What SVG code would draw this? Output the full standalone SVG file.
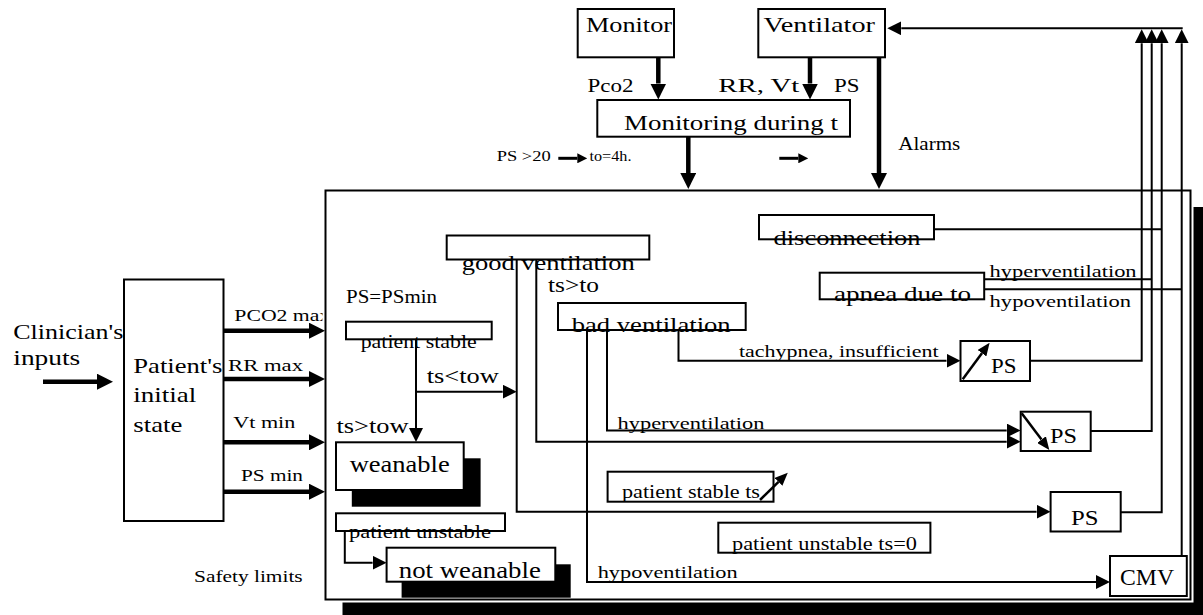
<svg xmlns="http://www.w3.org/2000/svg" width="1203" height="615" viewBox="0 0 1203 615" font-family="'Liberation Serif', 'Times New Roman', serif">
<style>
.box{fill:#fff;stroke:#000;stroke-width:2}
.halo{fill:#fff;stroke:#fff;stroke-width:6}
.shadow{fill:#000;stroke:none}
.thick{fill:none;stroke:#000;stroke-width:4.5}
.thin{fill:none;stroke:#000;stroke-width:2}
.diag{fill:none;stroke:#000;stroke-width:2.5}
.small{fill:none;stroke:#000;stroke-width:3}
text{font-family:'Liberation Serif','Times New Roman',serif;fill:#000}
.f24{font-size:23px}
.f22{font-size:22px}
.f20{font-size:20px}
.f18{font-size:18px}
.f17{font-size:17px}
.f14{font-size:14px}
</style>
<defs>
<marker id="ah" markerUnits="userSpaceOnUse" viewBox="0 0 16 16" markerWidth="16" markerHeight="16" refX="0" refY="8" orient="auto"><path d="M0,0 L16,8 L0,16 z" fill="#000"/></marker>
<marker id="at" markerUnits="userSpaceOnUse" viewBox="0 0 14 14" markerWidth="14" markerHeight="14" refX="0" refY="7" orient="auto"><path d="M0,0 L14,7 L0,14 z" fill="#000"/></marker>
<marker id="ad" markerUnits="userSpaceOnUse" viewBox="0 0 13 11" markerWidth="13" markerHeight="11" refX="0" refY="5.5" orient="auto"><path d="M0,0 L13,5.5 L0,11 z" fill="#000"/></marker>
<marker id="as" markerUnits="userSpaceOnUse" viewBox="0 0 10 10" markerWidth="10" markerHeight="10" refX="0" refY="5" orient="auto"><path d="M0,0 L10,5 L0,10 z" fill="#000"/></marker>
</defs>

<g id="limit-labels">
<text class="f17" x="234.3" y="321" textLength="96" lengthAdjust="spacingAndGlyphs">PCO2 max</text>
<text class="f17" x="228" y="371" textLength="75" lengthAdjust="spacingAndGlyphs">RR max</text>
<text class="f17" x="233.3" y="428.3" textLength="62" lengthAdjust="spacingAndGlyphs">Vt min</text>
<text class="f17" x="241" y="480.7" textLength="62" lengthAdjust="spacingAndGlyphs">PS min</text>
<text class="f17" x="194" y="581.7" textLength="108.7" lengthAdjust="spacingAndGlyphs">Safety limits</text>
</g>

<g id="safety-box">
<rect class="shadow" x="342.5" y="207" width="880" height="420"/>
<rect class="halo" x="325.5" y="190.5" width="865" height="409"/>
<rect class="box" x="325.5" y="190.5" width="865" height="409"/>
</g>

<g id="clinician">
<text class="f22" x="13.3" y="338.5" textLength="110" lengthAdjust="spacingAndGlyphs">Clinician's</text>
<text class="f22" x="13.3" y="365" textLength="67" lengthAdjust="spacingAndGlyphs">inputs</text>
</g>

<g id="patient-state">
<rect class="box" x="124" y="279.5" width="99.5" height="241.5"/>
<text class="f22" x="133.3" y="373.3" textLength="89" lengthAdjust="spacingAndGlyphs">Patient's</text>
<text class="f22" x="133.3" y="401.7" textLength="63" lengthAdjust="spacingAndGlyphs">initial</text>
<text class="f22" x="133.3" y="431.7" textLength="49" lengthAdjust="spacingAndGlyphs">state</text>
</g>

<g id="monitor">
<rect class="box" x="577.7" y="9" width="96.3" height="48.3"/>
<text class="f22" x="586" y="32" textLength="86" lengthAdjust="spacingAndGlyphs">Monitor</text>
</g>

<g id="ventilator">
<rect class="box" x="758.3" y="9" width="126.7" height="48.3"/>
<text class="f22" x="763.5" y="32" textLength="111.5" lengthAdjust="spacingAndGlyphs">Ventilator</text>
</g>

<g id="monitoring">
<rect class="box" x="597.3" y="100" width="252.7" height="36.7"/>
<text class="f20" x="624" y="130" textLength="214" lengthAdjust="spacingAndGlyphs">Monitoring during t</text>
</g>

<g id="good-ventilation">
<rect class="box" x="446.7" y="235.5" width="202.6" height="24"/>
<text class="f22" x="461.7" y="270" textLength="173" lengthAdjust="spacingAndGlyphs">good ventilation</text>
</g>

<g id="bad-ventilation">
<rect class="box" x="558" y="303" width="187.7" height="27"/>
<text class="f22" x="571.7" y="332" textLength="159" lengthAdjust="spacingAndGlyphs">bad ventilation</text>
</g>

<g id="disconnection">
<rect class="box" x="759" y="215" width="175" height="24.3"/>
<text class="f22" x="773.5" y="245" textLength="147" lengthAdjust="spacingAndGlyphs">disconnection</text>
</g>

<g id="apnea">
<rect class="box" x="819.7" y="272.7" width="164.5" height="26.6"/>
<text class="f22" x="834" y="301" textLength="137" lengthAdjust="spacingAndGlyphs">apnea due to</text>
</g>

<g id="patient-stable">
<rect class="box" x="346" y="321.7" width="145.7" height="17.6"/>
<text class="f18" x="360.7" y="348.3" textLength="116" lengthAdjust="spacingAndGlyphs">patient stable</text>
</g>

<g id="weanable">
<rect class="shadow" x="351.8" y="458.3" width="128.8" height="48.4"/>
<rect class="box" x="336" y="442.3" width="127.7" height="47.7"/>
<text class="f24" x="349.7" y="471.7" textLength="100" lengthAdjust="spacingAndGlyphs">weanable</text>
</g>

<g id="patient-unstable">
<rect class="box" x="336" y="513.3" width="169" height="17.7"/>
<text class="f18" x="349" y="538.3" textLength="142" lengthAdjust="spacingAndGlyphs">patient unstable</text>
</g>

<g id="not-weanable">
<rect class="shadow" x="401.6" y="564.3" width="169.1" height="33.4"/>
<rect class="box" x="386.6" y="547.7" width="168.7" height="34"/>
<text class="f24" x="398.8" y="578.3" textLength="142" lengthAdjust="spacingAndGlyphs">not weanable</text>
</g>

<g id="ps-increase">
<rect class="box" x="960.5" y="341" width="69.5" height="40"/>
<path class="diag" d="M962.7,379.3 L981.9,353.2" marker-end="url(#ad)"/>
<text class="f22" x="991" y="373.3" textLength="25.5" lengthAdjust="spacingAndGlyphs">PS</text>
</g>

<g id="ps-decrease">
<rect class="box" x="1020.7" y="411.7" width="70" height="39.3"/>
<path class="diag" d="M1021.7,413.3 L1041.5,439.6" marker-end="url(#ad)"/>
<text class="f22" x="1050" y="443" textLength="27" lengthAdjust="spacingAndGlyphs">PS</text>
</g>

<g id="ps-keep">
<rect class="box" x="1050.6" y="492" width="70.1" height="39.5"/>
<text class="f22" x="1071" y="524.5" textLength="27.5" lengthAdjust="spacingAndGlyphs">PS</text>
</g>

<g id="cmv">
<rect class="box" x="1110" y="556" width="76.8" height="40"/>
<text class="f24" x="1120" y="585" textLength="54" lengthAdjust="spacingAndGlyphs">CMV</text>
</g>

<g id="patient-stable-ts">
<rect class="box" x="607.6" y="471.7" width="165.9" height="30"/>
<text class="f18" x="622" y="498.3" textLength="138" lengthAdjust="spacingAndGlyphs">patient stable ts</text>
<path class="diag" d="M760,500 L778.5,481.8" marker-end="url(#ad)"/>
</g>

<g id="patient-unstable-ts">
<rect class="box" x="718.3" y="522.7" width="212.1" height="30"/>
<text class="f18" x="732" y="550" textLength="185" lengthAdjust="spacingAndGlyphs">patient unstable ts=0</text>
</g>

<g id="connectors">
<path class="thick" d="M43,381.7 H97" marker-end="url(#ah)"/>
<path class="thick" d="M223.5,330.7 H309" marker-end="url(#ah)"/>
<path class="thick" d="M223.5,379 H309" marker-end="url(#ah)"/>
<path class="thick" d="M223.5,442.3 H309" marker-end="url(#ah)"/>
<path class="thick" d="M223.5,491.7 H309" marker-end="url(#ah)"/>
<path class="thick" d="M658.3,57.3 V83.5" marker-end="url(#ah)"/>
<path class="thick" d="M810,57.3 V83.5" marker-end="url(#ah)"/>
<path class="thick" d="M688.3,136.7 V173" marker-end="url(#ah)"/>
<path class="thick" d="M879,57.3 V173" marker-end="url(#ah)"/>
<path class="small" d="M558.3,158.3 H577.3" marker-end="url(#as)"/>
<path class="small" d="M779.3,158.3 H798.3" marker-end="url(#as)"/>

<path class="thin" d="M516.7,259.5 V511.7 H1036.6" marker-end="url(#at)"/>
<path class="thin" d="M536.3,259.5 V441.7 H1006.7" marker-end="url(#at)"/>
<path class="thin" d="M587,330 V582 H1096" marker-end="url(#at)"/>
<path class="thin" d="M607,330 V430.5 H1006.7" marker-end="url(#at)"/>
<path class="thin" d="M678.5,330 V360.7 H946.5" marker-end="url(#at)"/>
<path class="thin" d="M416,339.3 V428" marker-end="url(#at)"/>
<path class="thin" d="M416,391.7 H502.7" marker-end="url(#at)"/>
<path class="thin" d="M344.8,531 V562.7 H372.6" marker-end="url(#at)"/>

<path class="thin" d="M1030,360.7 H1141.7 V43.3" marker-end="url(#at)"/>
<path class="thin" d="M1090.7,431 H1151.7 V43.3" marker-end="url(#at)"/>
<path class="thin" d="M984,279.3 H1151.7"/>
<path class="thin" d="M1120.7,512.3 H1161.7 V43.3" marker-end="url(#at)"/>
<path class="thin" d="M934,229.3 H1161.7"/>
<path class="thin" d="M1181.7,556 V43.3" marker-end="url(#at)"/>
<path class="thin" d="M984,289.3 H1181.7"/>
<path class="thin" d="M1182.7,28.3 H901.3" marker-end="url(#at)"/>

<text class="f18" x="587.5" y="92" textLength="46" lengthAdjust="spacingAndGlyphs">Pco2</text>
<text class="f18" x="718.3" y="92" textLength="81" lengthAdjust="spacingAndGlyphs">RR, Vt</text>
<text class="f18" x="834" y="92" textLength="25.5" lengthAdjust="spacingAndGlyphs">PS</text>
<text class="f14" x="496.7" y="161" textLength="54" lengthAdjust="spacingAndGlyphs">PS &gt;20</text>
<text class="f14" x="589.5" y="161" textLength="42" lengthAdjust="spacingAndGlyphs">to=4h.</text>
<text class="f18" x="898.3" y="149.5" textLength="62" lengthAdjust="spacingAndGlyphs">Alarms</text>
<text class="f20" x="548" y="292" textLength="51" lengthAdjust="spacingAndGlyphs">ts&gt;to</text>
<text class="f18" x="346" y="302.7" textLength="91" lengthAdjust="spacingAndGlyphs">PS=PSmin</text>
<text class="f20" x="426.7" y="383.3" textLength="72" lengthAdjust="spacingAndGlyphs">ts&lt;tow</text>
<text class="f20" x="336.5" y="433.3" textLength="72" lengthAdjust="spacingAndGlyphs">ts&gt;tow</text>
<text class="f17" x="989.6" y="277" textLength="147" lengthAdjust="spacingAndGlyphs">hyperventilation</text>
<text class="f17" x="989.6" y="307" textLength="141.5" lengthAdjust="spacingAndGlyphs">hypoventilation</text>
<text class="f17" x="739" y="356.7" textLength="199.5" lengthAdjust="spacingAndGlyphs">tachypnea, insufficient</text>
<text class="f17" x="617.5" y="428.5" textLength="147" lengthAdjust="spacingAndGlyphs">hyperventilation</text>
<text class="f17" x="597.7" y="578.3" textLength="140" lengthAdjust="spacingAndGlyphs">hypoventilation</text>
</g>
</svg>
